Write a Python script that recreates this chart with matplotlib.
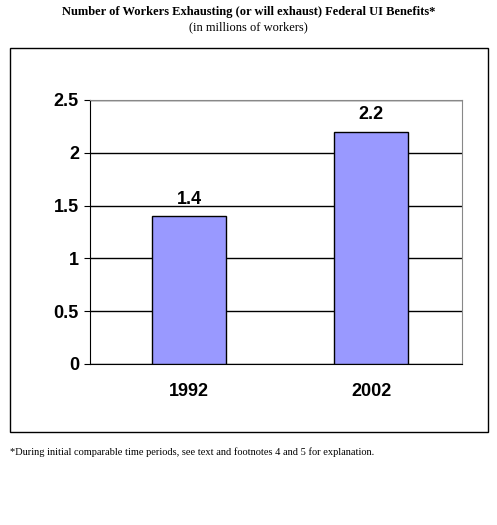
import matplotlib
matplotlib.use("Agg")
import matplotlib.pyplot as plt
from matplotlib.patches import Rectangle

years = ["1992", "2002"]
workers = [1.4, 2.2]
yticks = [0, 0.5, 1, 1.5, 2, 2.5]
ytick_labels = ["0", "0.5", "1", "1.5", "2", "2.5"]

fig = plt.figure(figsize=(4.97, 5.25), dpi=100)
fig.patch.set_facecolor("white")

fig.text(0.5, 1 - 12/525, "Number of Workers Exhausting (or will exhaust) Federal UI Benefits*",
         ha="center", va="center", family="Liberation Serif", weight="bold", fontsize=9)
fig.text(0.5, 1 - 27/525, "(in millions of workers)", ha="center", va="center",
         family="Liberation Serif", fontsize=9)
fig.text(10/497, 1 - 452/525,
         "*During initial comparable time periods, see text and footnotes 4 and 5 for explanation.",
         ha="left", va="center", family="Liberation Serif", fontsize=7.5)

fig.add_artist(Rectangle((10/497, 1 - 432/525), 478/497, 384/525, transform=fig.transFigure,
                         fill=False, edgecolor="black", linewidth=1))

ax = fig.add_axes([90/497, 1 - 364/525, 372/497, 264/525])
x = list(range(len(years)))
bars = ax.bar(x, workers, width=0.41, color="#9999ff", edgecolor="black", linewidth=1, zorder=3)
for xi, v in zip(x, workers):
    ax.text(xi, v + 0.08, f"{v}", ha="center", va="bottom", family="Liberation Sans",
            weight="bold", fontsize=13)
ax.set_xlim(-0.544, 1.5)
ax.set_ylim(0, 2.5)
ax.set_yticks(yticks)
ax.set_yticklabels(ytick_labels, family="Liberation Sans", weight="bold", fontsize=13)
ax.set_xticks(x)
ax.set_xticklabels(years, family="Liberation Sans", weight="bold", fontsize=13)
ax.tick_params(axis="x", length=0, pad=14)
ax.tick_params(axis="y", length=4, direction="out", pad=4)
ax.grid(axis="y", color="black", linewidth=1, zorder=0)
for s in ["top", "right"]:
    ax.spines[s].set_color("#888888")
for s in ["left", "bottom"]:
    ax.spines[s].set_color("black")
ax.set_facecolor("white")

fig.savefig("out.png", dpi=100, facecolor="white")
